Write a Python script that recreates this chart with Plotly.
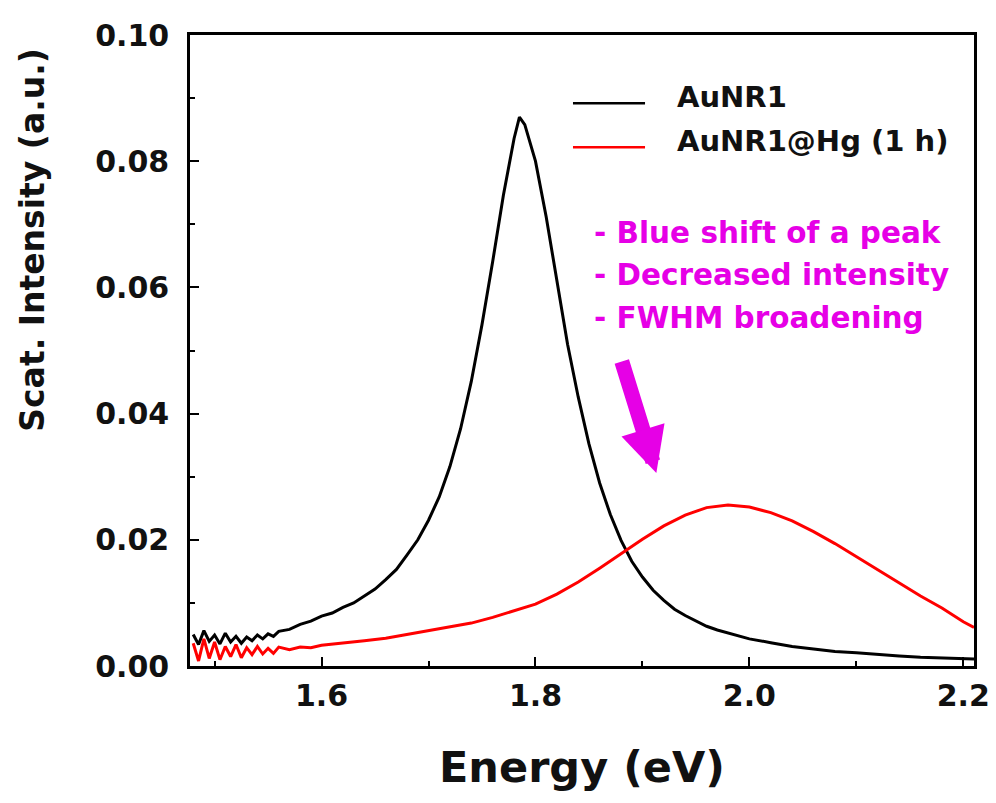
import plotly.graph_objects as go

# ---------------- data ----------------
energy_black = [1.480, 1.485, 1.490, 1.495, 1.500, 1.505, 1.510, 1.515, 1.520, 1.525,
                1.530, 1.535, 1.540, 1.545, 1.550, 1.555, 1.560, 1.57, 1.58, 1.59,
                1.60, 1.61, 1.62, 1.63, 1.64, 1.65, 1.66, 1.67, 1.68, 1.69,
                1.70, 1.71, 1.72, 1.73, 1.74, 1.75, 1.76, 1.77, 1.78, 1.785,
                1.79, 1.80, 1.81, 1.82, 1.83, 1.84, 1.85, 1.86, 1.87, 1.88,
                1.89, 1.90, 1.91, 1.92, 1.93, 1.94, 1.95, 1.96, 1.97, 1.98,
                1.99, 2.00, 2.02, 2.04, 2.06, 2.08, 2.10, 2.12, 2.14, 2.16,
                2.18, 2.20, 2.21]
intensity_black = [0.0050, 0.0034, 0.0056, 0.0039, 0.0049, 0.0035, 0.0052, 0.0038, 0.0047, 0.0036,
                   0.0046, 0.0040, 0.0049, 0.0043, 0.0051, 0.0047, 0.0055, 0.0058, 0.0066, 0.0071,
                   0.0079, 0.0084, 0.0093, 0.0100, 0.0111, 0.0122, 0.0137, 0.0153, 0.0176, 0.0200,
                   0.0231, 0.0268, 0.0316, 0.0376, 0.0451, 0.0541, 0.0641, 0.0746, 0.0836, 0.0870,
                   0.0858, 0.0800, 0.0712, 0.0611, 0.0510, 0.0426, 0.0352, 0.0290, 0.0240, 0.0199,
                   0.0166, 0.0141, 0.0120, 0.0104, 0.0090, 0.0080, 0.0071, 0.0063, 0.0057, 0.0052,
                   0.0047, 0.0043, 0.0037, 0.0031, 0.0027, 0.0023, 0.0021, 0.0018, 0.0016, 0.0014,
                   0.0013, 0.0012, 0.0011]

energy_red = [1.480, 1.485, 1.490, 1.495, 1.500, 1.505, 1.510, 1.515, 1.520, 1.525,
              1.530, 1.535, 1.540, 1.545, 1.550, 1.555, 1.560, 1.57, 1.58, 1.59,
              1.60, 1.62, 1.64, 1.66, 1.68, 1.70, 1.72, 1.74, 1.76, 1.78,
              1.80, 1.82, 1.84, 1.86, 1.88, 1.90, 1.92, 1.94, 1.96, 1.98,
              2.00, 2.02, 2.04, 2.06, 2.08, 2.10, 2.12, 2.14, 2.16, 2.18,
              2.20, 2.21]
intensity_red = [0.0036, 0.0008, 0.0043, 0.0012, 0.0038, 0.0010, 0.0031, 0.0015, 0.0034, 0.0013,
                 0.0029, 0.0018, 0.0031, 0.0019, 0.0028, 0.0020, 0.0030, 0.0026, 0.0030, 0.0029,
                 0.0033, 0.0036, 0.0040, 0.0044, 0.0050, 0.0055, 0.0061, 0.0068, 0.0077, 0.0087,
                 0.0098, 0.0114, 0.0133, 0.0155, 0.0178, 0.0201, 0.0222, 0.0239, 0.0251, 0.0255,
                 0.0252, 0.0243, 0.0230, 0.0213, 0.0194, 0.0173, 0.0152, 0.0131, 0.0111, 0.0092,
                 0.0070, 0.0061]

series_names = ["AuNR1", "AuNR1@Hg (1 h)"]
series_colors = ["#000000", "#FF0000"]
notes = ["- Blue shift of a peak", "- Decreased intensity", "- FWHM broadening"]
x_ticks = [1.6, 1.8, 2.0, 2.2]
y_ticks = [0.00, 0.02, 0.04, 0.06, 0.08, 0.10]

FONT = "DejaVu Sans"
MAGENTA = "#E600E6"

fig = go.Figure()
fig.add_trace(go.Scatter(x=energy_black, y=intensity_black, mode="lines",
                         name=series_names[0], line=dict(color=series_colors[0], width=3),
                         showlegend=False))
fig.add_trace(go.Scatter(x=energy_red, y=intensity_red, mode="lines",
                         name=series_names[1], line=dict(color=series_colors[1], width=3),
                         showlegend=False))

axis_common = dict(showline=True, linecolor="black", linewidth=2.5, mirror=True,
                   showgrid=False, zeroline=False, ticks="inside", ticklen=9,
                   tickwidth=2, tickcolor="black",
                   tickfont=dict(family=FONT, size=30, color="#111111", weight="bold"))

fig.update_layout(
    width=988, height=795,
    margin=dict(l=182, r=22, t=27, b=137),
    paper_bgcolor="white", plot_bgcolor="white",
    xaxis=dict(range=[1.477, 2.21], tickvals=x_ticks,
               ticktext=[f"{v:.1f}" for v in x_ticks],
               minor=dict(dtick=0.1, tick0=1.5, ticks="inside", ticklen=5,
                          tickwidth=2, tickcolor="black"),
               ticklabelstandoff=1, automargin=False, **axis_common),
    yaxis=dict(range=[0, 0.1], tickvals=y_ticks,
               ticktext=[f"{v:.2f}" for v in y_ticks],
               minor=dict(dtick=0.01, ticks="inside", ticklen=5,
                          tickwidth=2, tickcolor="black"),
               ticklabelstandoff=12, automargin=False, **axis_common),
    showlegend=False,
)

# legend drawn by hand (long line samples)
legend_y = [0.892, 0.822]
for name, color, ly in zip(series_names, series_colors, legend_y):
    fig.add_shape(type="line", xref="paper", yref="paper",
                  x0=0.4885, x1=0.5804, y0=ly, y1=ly,
                  line=dict(color=color, width=2.5))
    fig.add_annotation(xref="paper", yref="paper", x=0.6186, y=ly + 0.010,
                       xanchor="left", yanchor="middle", showarrow=False,
                       text=f"<b>{name}</b>",
                       font=dict(family=FONT, size=29, color="#111111"))

note_y = [0.687, 0.619, 0.552]
for t, ny in zip(notes, note_y):
    fig.add_annotation(xref="paper", yref="paper", x=0.5128, y=ny,
                       xanchor="left", yanchor="middle", showarrow=False,
                       text=f"<b>{t}</b>",
                       font=dict(family=FONT, size=29.5, color=MAGENTA))

# arrow
fig.add_annotation(x=1.913, y=0.0306, xref="x", yref="y", text="",
                   showarrow=True, ax=-35, ay=-113, axref="pixel", ayref="pixel",
                   arrowhead=2, arrowsize=0.6, arrowwidth=15, arrowcolor=MAGENTA)

# axis titles
fig.add_annotation(xref="paper", yref="paper", x=0.5, y=-0.16,
                   xanchor="center", yanchor="middle", showarrow=False,
                   text="<b>Energy (eV)</b>",
                   font=dict(family=FONT, size=43, color="#111111"))
fig.add_annotation(xref="paper", yref="paper", x=-0.202, y=0.675,
                   xanchor="center", yanchor="middle", showarrow=False,
                   textangle=-90, text="<b>Scat. Intensity (a.u.)</b>",
                   font=dict(family=FONT, size=33, color="#111111"))

fig.write_html("out.html")
